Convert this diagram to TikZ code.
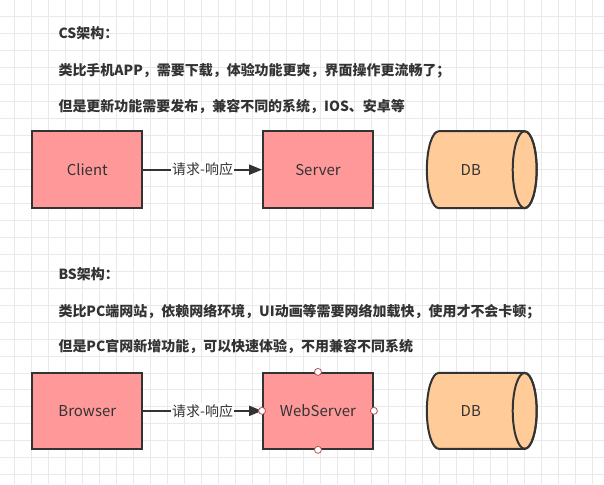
\documentclass[tikz,border=0pt]{standalone}
\usepackage{fontspec}
\setmainfont{Noto Sans CJK SC}
\usepackage{tikz}
\usetikzlibrary{arrows.meta}

\definecolor{boxred}{HTML}{FF9999}
\definecolor{dborange}{HTML}{FFCC99}
\definecolor{ink}{HTML}{333333}
\definecolor{gridgray}{HTML}{E9E9E9}
\definecolor{portred}{HTML}{B85450}

\begin{document}
\begin{tikzpicture}[x=1pt, y=1pt, node distance=231pt]

		\tikzstyle{box} = [rectangle, draw=ink, line width=2pt, fill=boxred, minimum width=110pt, minimum height=77pt, inner sep=0pt, text=ink, font=\fontsize{15}{18}\selectfont]
		\tikzstyle{edge} = [-{Triangle[length=13pt, width=10pt]}, line width=2pt, draw=ink]
		\tikzstyle{edgelabel} = [fill=white, inner sep=1pt, text=ink, font=\fontsize{14}{16}\selectfont]
		\tikzstyle{note} = [anchor=west, inner sep=0pt, text=ink, font=\bfseries\fontsize{14}{16}\selectfont]
		\tikzstyle{port} = [circle, draw=portred, fill=white, line width=0.8pt, minimum size=7pt, inner sep=0pt]
		\tikzstyle{dbtext} = [text=ink, font=\fontsize{15}{18}\selectfont]

		% background grid
		\fill[white] (0,0) rectangle (604,484);
		\foreach \k in {0,...,34}
			\draw[gridgray, line width=0.8pt] (14.5+17*\k,0) -- (14.5+17*\k,484);
		\foreach \k in {0,...,27}
			\draw[gridgray, line width=0.8pt] (0,468-17*\k) -- (604,468-17*\k);
		\useasboundingbox (0,0) rectangle (604,484);

		% CS
		\node[note](cs title) at (58,451){CS架构：};
		\node[note](cs line1) at (58,414){类比手机APP，需要下载，体验功能更爽，界面操作更流畅了；};
		\node[note](cs line2) at (58,378){但是更新功能需要发布，兼容不同的系统，IOS、安卓等};

		\node[box](client) at (87,314.5){Client};
		\node[box](server) [right of=client]{Server};

		\filldraw[draw=ink, fill=dborange, line width=2pt]
			(439,353) arc[start angle=90, end angle=270, x radius=12, y radius=38.5]
			-- (525,276) arc[start angle=-90, end angle=90, x radius=12, y radius=38.5] -- cycle;
		\draw[ink, line width=2pt] (525,314.5) ellipse[x radius=12, y radius=38.5];
		\node[dbtext](db1) at (471,314.5){DB};

		\draw[edge] (client) -- node[edgelabel]{请求-响应} (server);

		% BS
		\node[note](bs title) at (58,210){BS架构：};
		\node[note](bs line1) at (58,172){类比PC端网站，依赖网络环境，UI动画等需要网络加载快，使用才不会卡顿；};
		\node[note](bs line2) at (58,137){但是PC官网新增功能，可以快速体验，不用兼容不同系统};

		\node[box, minimum height=76pt](browser) at (87,73){Browser};
		\node[box, minimum height=76pt](webserver) [right of=browser]{WebServer};

		\filldraw[draw=ink, fill=dborange, line width=2pt]
			(439,111) arc[start angle=90, end angle=270, x radius=12, y radius=38]
			-- (525,35) arc[start angle=-90, end angle=90, x radius=12, y radius=38] -- cycle;
		\draw[ink, line width=2pt] (525,73) ellipse[x radius=12, y radius=38];
		\node[dbtext](db2) at (471,73){DB};

		\draw[edge] (browser) -- node[edgelabel]{请求-响应} (webserver);

		\node[port](ws n) at (webserver.north){};
		\node[port](ws e) at (webserver.east){};
		\node[port](ws s) at (webserver.south){};
		\node[port](ws w) at (webserver.west){};

  \end{tikzpicture}
\end{document}
